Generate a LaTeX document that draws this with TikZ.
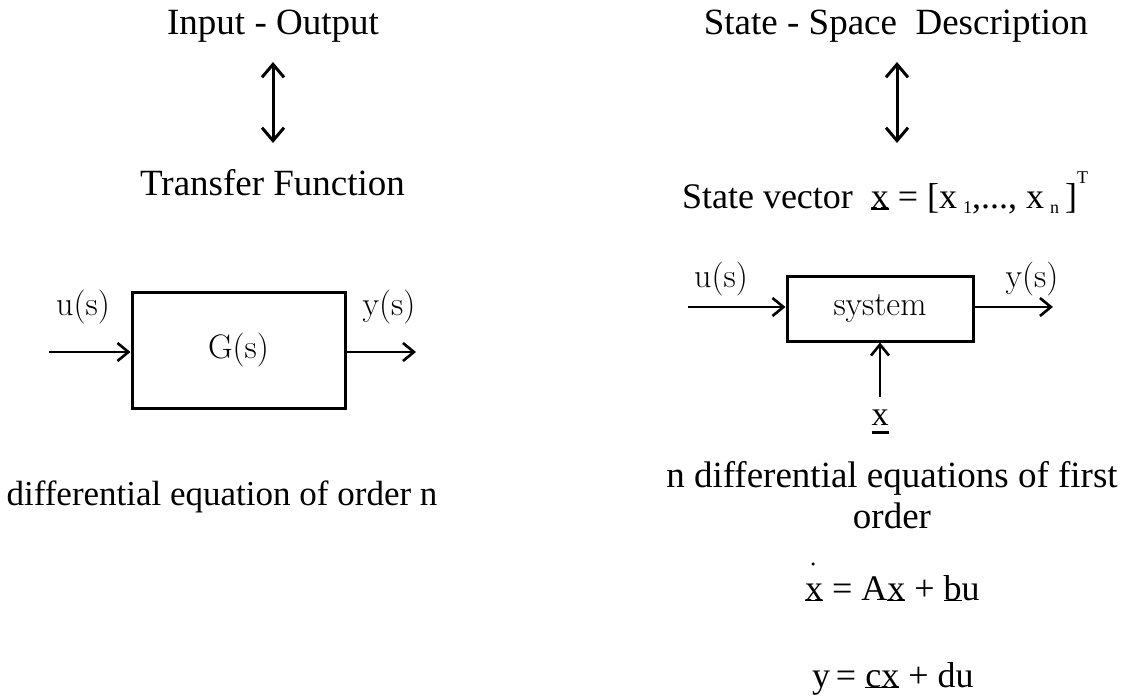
\documentclass[tikz,border=0pt]{standalone}
\usepackage{fontspec}
\newfontfamily\tm{Liberation Serif}
\usetikzlibrary{arrows.meta}
\newcommand\myul[3]{\setbox0=\hbox{#1}\leavevmode\rlap{\rule[#2]{\wd0}{#3}}\box0\relax}
\begin{document}
\begin{tikzpicture}[x=1pt,y=-1pt,
  txt/.style={font=\tm\fontsize{37}{42}\selectfont, inner sep=0pt, outer sep=0pt},
  lab/.style={font=\fontsize{34}{38}\selectfont, inner sep=0pt, anchor=base},
  blk/.style={draw, line width=3pt, inner sep=0pt, font=\fontsize{34}{38}\selectfont},
  sig/.style={line width=2.6pt, -{Straight Barb[length=11pt,width=18pt]}},
  dbl/.style={line width=3pt, {Straight Barb[length=13pt,width=22pt]}-{Straight Barb[length=13pt,width=22pt]}}]
\useasboundingbox (0,0) rectangle (1130,698);

% left column
\node[txt, anchor=base] (io) at (273,35) {Input - Output};
\node[txt, anchor=base east] (tf) at (405,195) {Transfer Function};
\coordinate (l1) at (273,62);
\coordinate (l2) at (273,143);
\draw[dbl] (l1) -- (l2);

\node[blk, minimum width=213pt, minimum height=116pt] (G) at (238.5,350) {G(s)};
\node[lab] (u1) at (83,315) {u(s)};
\node[lab] (y1) at (389,315) {y(s)};
\coordinate (in1) at (49,352);
\coordinate (out1) at (416,352);
\draw[sig] (in1) -- (in1 -| G.west);
\draw[sig] (out1 -| G.east) -- (out1);

\node[txt, font=\tm\fontsize{35}{40}\selectfont, anchor=base] (de) at (222,505) {differential equation of order n};

% right column
\node[txt, anchor=base] (ss) at (896,35) {State - Space\ \ Description};
\coordinate (r1) at (897,62);
\coordinate (r2) at (897,143);
\draw[dbl] (r1) -- (r2);
\node[txt, font=\tm\fontsize{36}{40}\selectfont, anchor=base west] (sv) at (682,208) {State vector\ \ \myul{x}{-2pt}{1.8pt} = [x\,\raisebox{-5pt}{\fontsize{18}{18}\selectfont 1},..., x\,\raisebox{-5pt}{\fontsize{18}{18}\selectfont n}\,]\raisebox{25pt}{\fontsize{18}{18}\selectfont T}};

\node[blk, minimum width=186pt, minimum height=65pt] (S) at (880,308.5) {system};
\node[lab] (u2) at (721,287) {u(s)};
\node[lab] (y2) at (1032,287) {y(s)};
\coordinate (in2) at (688,307);
\coordinate (out2) at (1053,307);
\draw[sig] (in2) -- (in2 -| S.west);
\draw[sig] (out2 -| S.east) -- (out2);
\node[font=\tm\fontsize{34}{36}\selectfont, inner sep=0pt, anchor=base] (xl) at (880,425) {\myul{x}{-9pt}{3pt}};
\coordinate (xin) at (880,397);
\draw[sig] (xin) -- (S.south);

\node[txt, anchor=base] (nd) at (892,487) {n differential equations of first};
\node[txt, anchor=base] (or) at (892,528) {order};
\node[circle, fill, inner sep=0pt, minimum size=3.5pt] (dot) at (813,564) {};
\node[txt, font=\tm\fontsize{36}{40}\selectfont, anchor=base west] (e1) at (805,600) {\myul{x}{-1pt}{1.5pt} = A\myul{x}{-1pt}{1.5pt} + \myul{b}{-1pt}{1.5pt}u};
\node[txt, font=\tm\fontsize{36}{40}\selectfont, anchor=base west] (e2) at (812,687) {y\,= \myul{cx}{-1pt}{1.5pt} + du};
\end{tikzpicture}
\end{document}
